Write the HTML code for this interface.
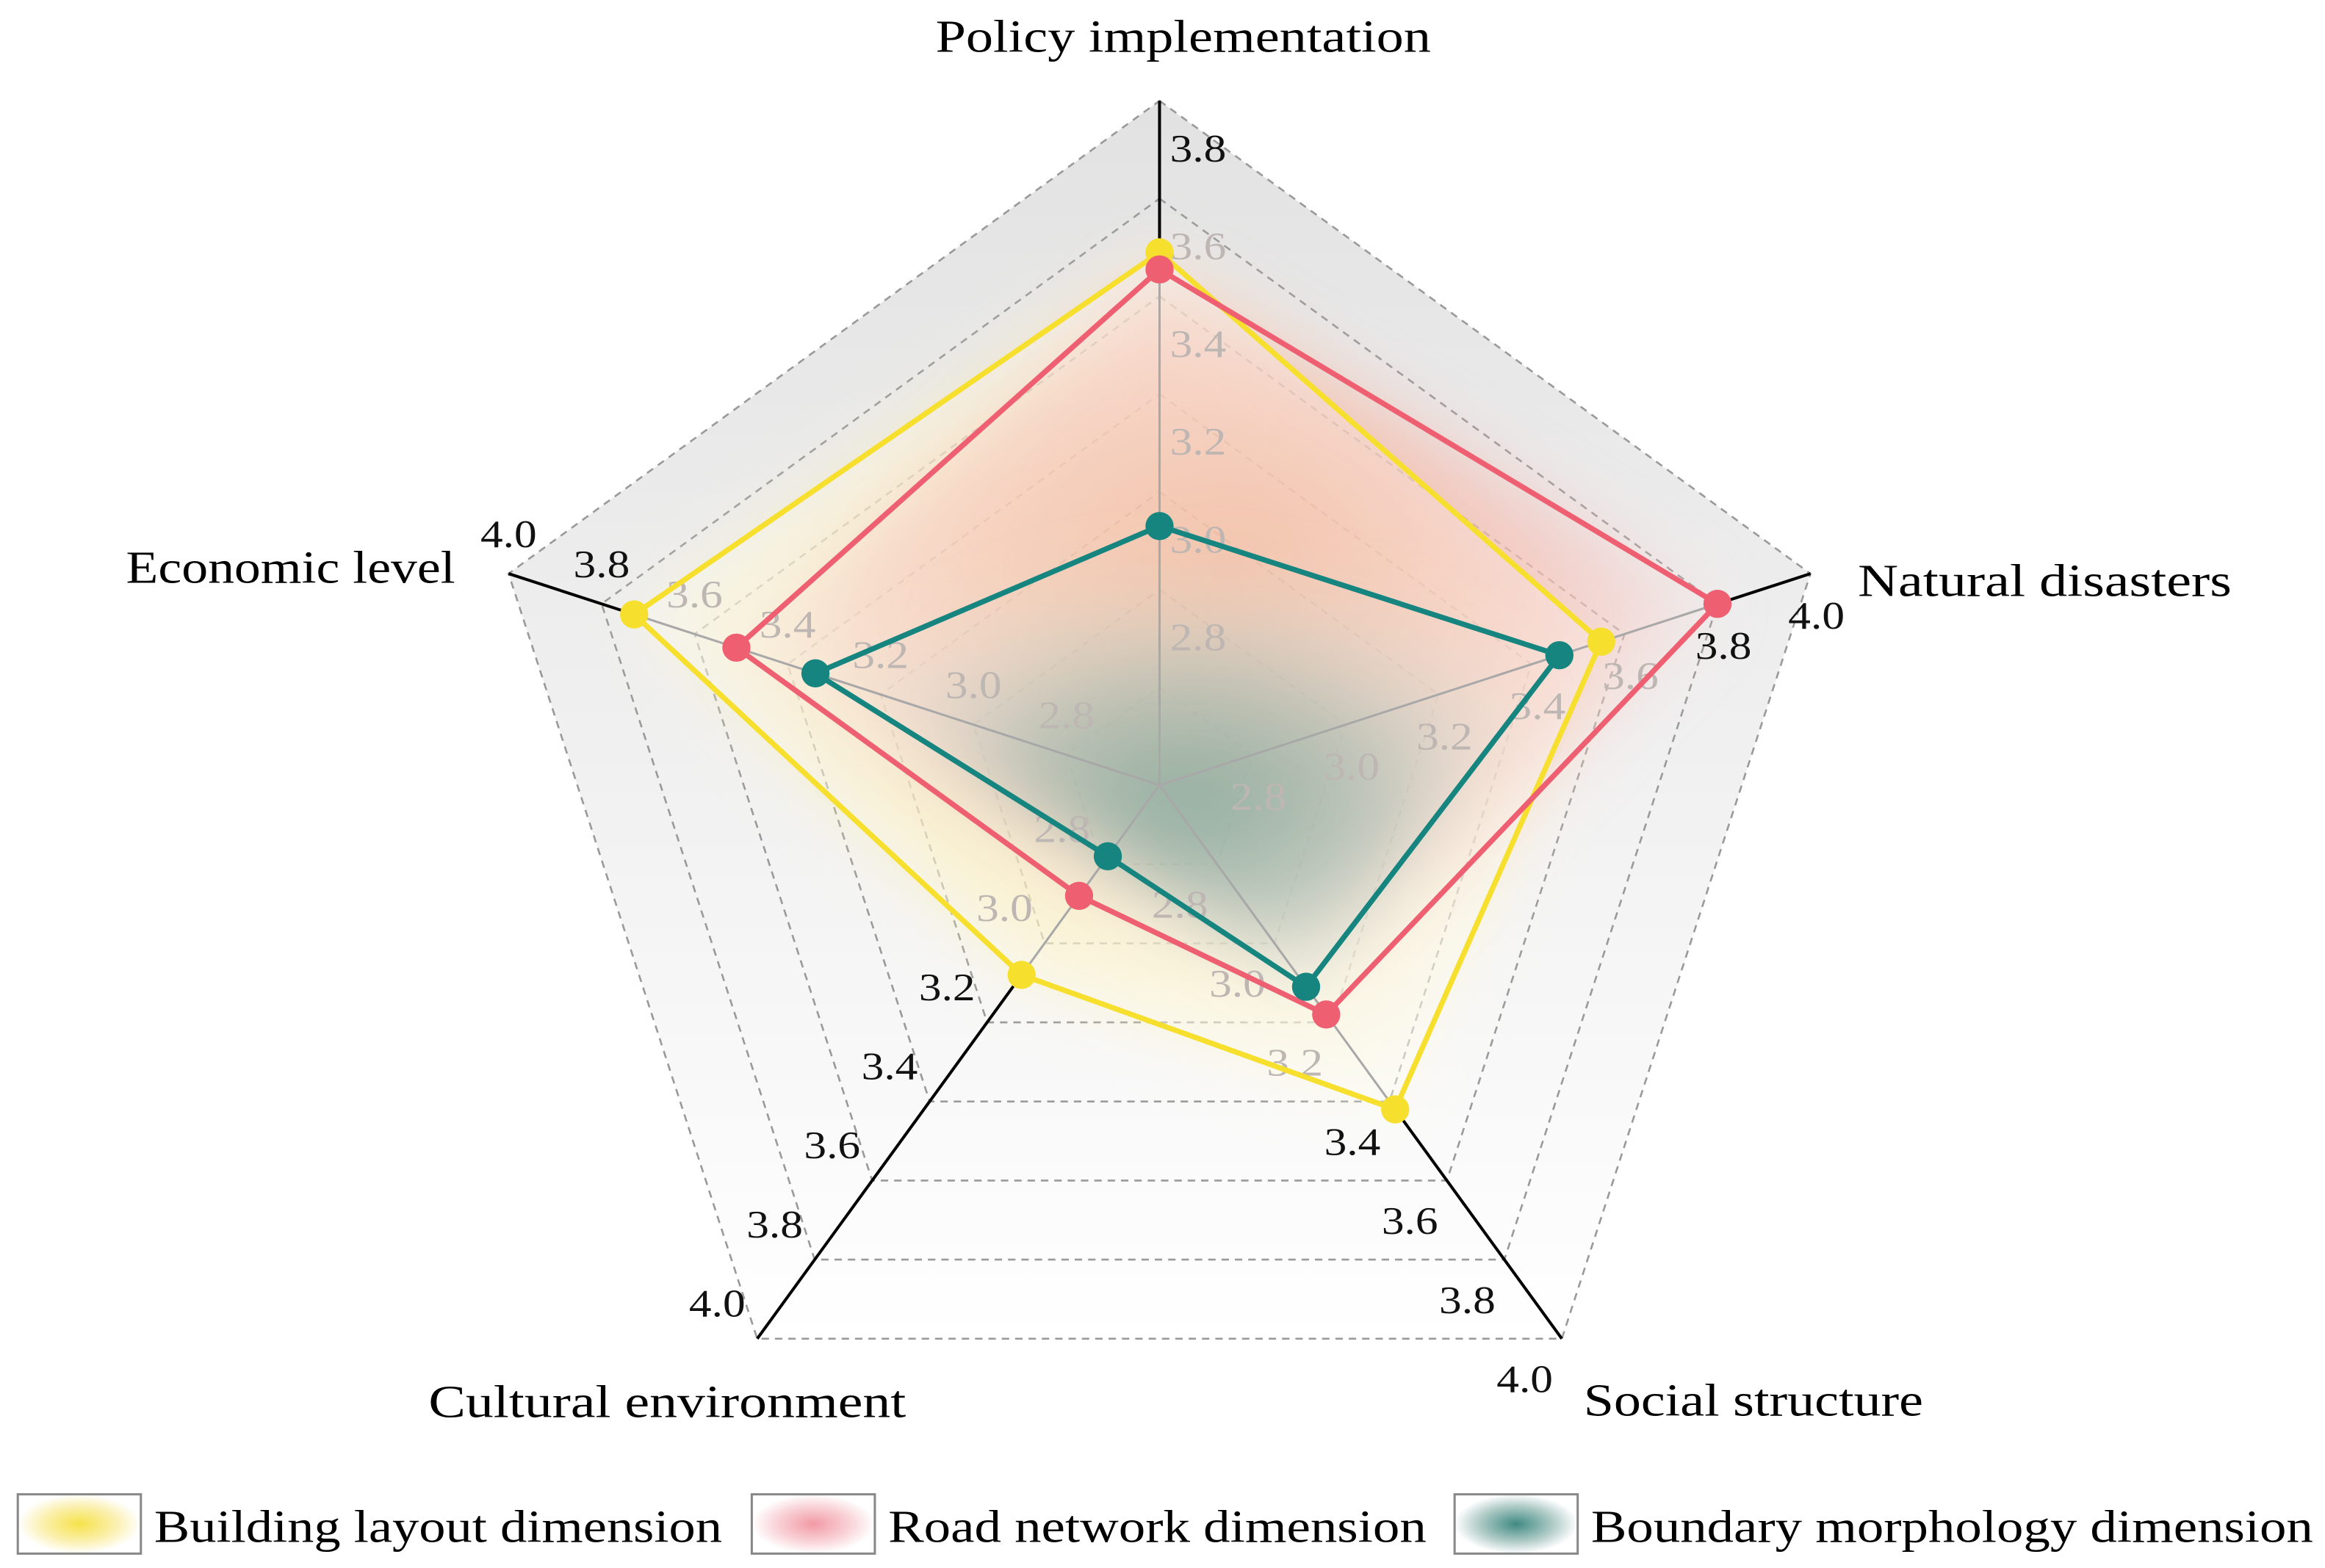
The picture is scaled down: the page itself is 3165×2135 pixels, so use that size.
<!DOCTYPE html>
<html><head><meta charset="utf-8"><style>
html,body{margin:0;padding:0;background:#fff;}
svg{display:block;}
text{font-family:"Liberation Serif",serif;}
</style></head><body>
<svg id="chart" width="3165" height="2135" viewBox="0 0 1568 1057.7" xmlns="http://www.w3.org/2000/svg">
<defs>
<linearGradient id="bgGrad" x1="0" y1="0" x2="0" y2="1">
<stop offset="0" stop-color="#e2e2e2"/><stop offset="0.55" stop-color="#f1f1f1"/><stop offset="1" stop-color="#ffffff"/>
</linearGradient>
<radialGradient id="yGrad" cx="0.5" cy="0.5" r="0.6">
<stop offset="0" stop-color="#fbe27a"/><stop offset="0.6" stop-color="#fdf3c0"/><stop offset="1" stop-color="#fffdf2"/>
</radialGradient>
<radialGradient id="rGrad" cx="0.5" cy="0.4" r="0.6">
<stop offset="0" stop-color="#f0907c"/><stop offset="0.6" stop-color="#f6c0ba"/><stop offset="1" stop-color="#fdf0ee" stop-opacity="0.3"/>
</radialGradient>
<radialGradient id="tGrad" cx="0.5" cy="0.6" r="0.55">
<stop offset="0" stop-color="#3f8577"/><stop offset="0.45" stop-color="#8faa9f"/><stop offset="1" stop-color="#e8ece9" stop-opacity="0"/>
</radialGradient>
<filter id="blur" x="-30%" y="-30%" width="160%" height="160%"><feGaussianBlur stdDeviation="22"/></filter>
<radialGradient id="lgY"><stop offset="0" stop-color="#f6e24a"/><stop offset="0.6" stop-color="#fbf0b0"/><stop offset="1" stop-color="#fff"/></radialGradient>
<radialGradient id="lgR"><stop offset="0" stop-color="#f29aa5"/><stop offset="0.6" stop-color="#f9d3d8"/><stop offset="1" stop-color="#fff"/></radialGradient>
<radialGradient id="lgT"><stop offset="0" stop-color="#3f8a82"/><stop offset="0.6" stop-color="#b0cbc7"/><stop offset="1" stop-color="#fff"/></radialGradient>
</defs>
<g id="layer-bg"></g>
<g id="layer-grid"></g>
<g id="layer-fill"></g>
<g id="layer-ticks"></g>
<g id="layer-axes"></g>
<g id="layer-series"></g>
<g id="layer-labels"></g>
<g id="legend">
 <g>
  <rect x="12" y="1008" width="83" height="40" fill="url(#lgY)" stroke="#888" stroke-width="1.5"/>
  <text x="104" y="1040" font-size="31" textLength="383" lengthAdjust="spacingAndGlyphs">Building layout dimension</text>
 </g>
 <g>
  <rect x="507" y="1008" width="83" height="40" fill="url(#lgR)" stroke="#888" stroke-width="1.5"/>
  <text x="599" y="1040" font-size="31" textLength="363" lengthAdjust="spacingAndGlyphs">Road network dimension</text>
 </g>
 <g>
  <rect x="981" y="1008" width="83" height="40" fill="url(#lgT)" stroke="#888" stroke-width="1.5"/>
  <text x="1073" y="1040" font-size="31" textLength="487" lengthAdjust="spacingAndGlyphs">Boundary morphology dimension</text>
 </g>
</g>
</svg>
<script>
const categories = ["Policy implementation","Natural disasters","Social structure","Cultural environment","Economic level"];
const buildingLayout = [3.69, 3.55, 3.42, 3.08, 3.73];
const roadNetwork = [3.655, 3.80, 3.18, 2.88, 3.51];
const boundaryMorphology = [3.13, 3.46, 3.11, 2.78, 3.34];
const tickValues = [2.8, 3.0, 3.2, 3.4, 3.6, 3.8, 4.0];
const tickLabels = ["2.8","3.0","3.2","3.4","3.6","3.8","4.0"];
const axisMin = 2.6, axisMax = 4.0;

const NS = "http://www.w3.org/2000/svg";
const cx = 782, cy = 529.6, R = 461.6;
function rScale(v){ return (v - axisMin) / (axisMax - axisMin) * R; }
function ang(i){ return (i * 72) * Math.PI / 180; }
function pt(i, v){ const r = rScale(v), a = ang(i); return [cx + r*Math.sin(a), cy - r*Math.cos(a)]; }
function mk(tag, attrs, parent){ const e = document.createElementNS(NS, tag); for (const k in attrs) e.setAttribute(k, attrs[k]); parent.appendChild(e); return e; }
const L = id => document.getElementById(id);

const bgPts = categories.map((c,i)=>pt(i,axisMax).join(",")).join(" ");
const bg = mk("polygon", {points:bgPts, fill:"url(#bgGrad)"}, L("layer-bg"));



tickValues.forEach((v,k)=>{
  const p = mk("polygon", {points:categories.map((c,i)=>pt(i,v).join(",")).join(" "), fill:"none", stroke:"#9a9a9a", "stroke-width":1.3, "stroke-dasharray":"5,4"}, L("layer-grid"));
  
  
});

const series = [
  {name:"building-layout", vals:buildingLayout, color:"#f7df2e", grad:"url(#yGrad)", op:0.6},
  {name:"road-network", vals:roadNetwork, color:"#ef5f72", grad:"url(#rGrad)", op:0.6},
  {name:"boundary-morphology", vals:boundaryMorphology, color:"#17857f", grad:"url(#tGrad)", op:0.7}
];
series.forEach(s=>{
  const p = mk("polygon", {points:s.vals.map((v,i)=>pt(i,v).join(",")).join(" "), fill:s.grad, opacity:s.op, filter:"url(#blur)"}, L("layer-fill"));
  
  
});
const inner = mk("polygon", {points:buildingLayout.map((v,i)=>pt(i,v).join(",")).join(" "), fill:"#ffffff", opacity:0.2}, L("layer-fill"));



const tickOff = [[26,-34],[4,28],[-25,27],[-27,-24],[0,-27]];
categories.forEach((c,i)=>{
  tickValues.forEach((v,k)=>{
    if (i===0 && v>=4.0) return;
    const [x,y] = pt(i,v);
    const insideVal = Math.max(buildingLayout[i], roadNetwork[i]);
    const col = v < insideVal - 0.05 ? "#bdb6b2" : "#111";
    const t = mk("text", {x:x+tickOff[i][0]-19, y:y+tickOff[i][1]+9, "font-size":26, textLength:38, lengthAdjust:"spacingAndGlyphs", fill:col}, L("layer-ticks"));
    t.textContent = tickLabels[k];
    
    
  });
});

categories.forEach((c,i)=>{
  const mx = Math.max(buildingLayout[i], roadNetwork[i], boundaryMorphology[i]);
  const [x0,y0] = pt(i,axisMin), [x1,y1] = pt(i,mx), [x2,y2] = pt(i,axisMax);
  const g = mk("line", {x1:x0,y1:y0,x2:x1,y2:y1, stroke:"#a8a8a8", "stroke-width":1.5}, L("layer-axes"));
  
  
  const b = mk("line", {x1:x1,y1:y1,x2:x2,y2:y2, stroke:"#000", "stroke-width":2}, L("layer-axes"));
  
  
});

series.forEach(s=>{
  const g = mk("g", {}, L("layer-series"));
  
  
  const pl = mk("polygon", {points:s.vals.map((v,i)=>pt(i,v).join(",")).join(" "), fill:"none", stroke:s.color, "stroke-width":3.6, "stroke-linejoin":"round"}, g);
  
  
  s.vals.forEach((v,i)=>{
    const [x,y] = pt(i,v);
    const c = mk("circle", {cx:x, cy:y, r:9.5, fill:s.color}, g);
    
    
  });
});

const titlePos = [[631,35,334],[1253,402,252],[1068,955,229],[289,956,322],[85,393,222]];
categories.forEach((c,i)=>{
  const t = mk("text", {x:titlePos[i][0], y:titlePos[i][1], "font-size":31, textLength:titlePos[i][2], lengthAdjust:"spacingAndGlyphs", fill:"#000"}, L("layer-labels"));
  t.textContent = c;
  
  
});
</script>
</body></html>
